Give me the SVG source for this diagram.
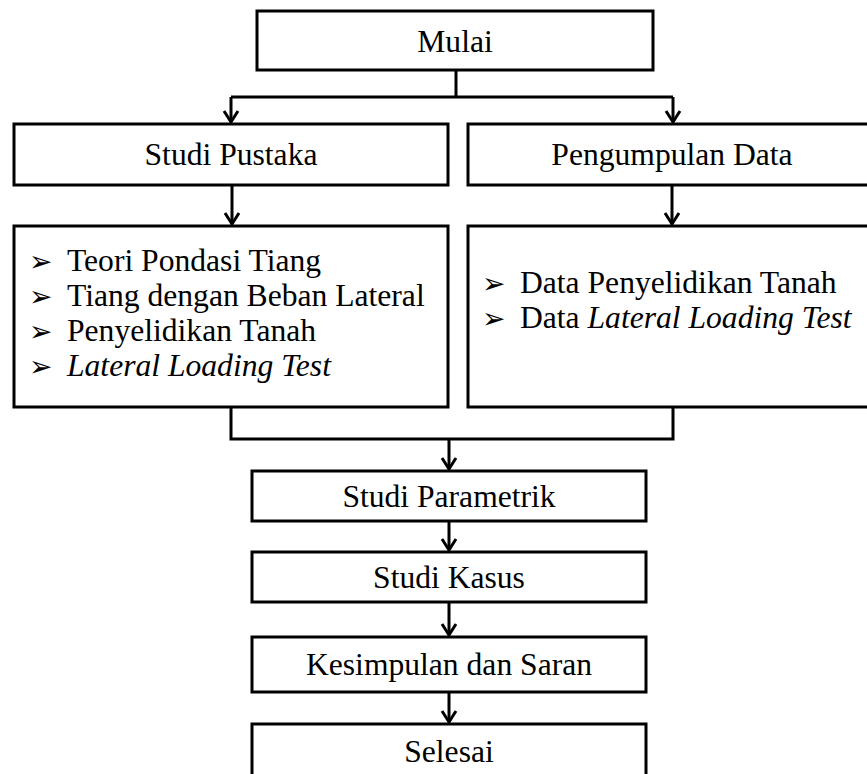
<svg xmlns="http://www.w3.org/2000/svg" width="867" height="774" viewBox="0 0 867 774">
<defs>
<style>
.box{fill:#fff;stroke:#000;stroke-width:3}
.t{font-family:"Liberation Serif","Times New Roman",serif;font-size:31.6px;fill:#000}
.c{text-anchor:middle}
.it{font-style:italic}
.b{font-family:"DejaVu Sans","Noto Sans",sans-serif;font-size:28px;fill:#000}
.ln{fill:none;stroke:#000;stroke-width:3}
</style>
<marker id="ah" markerUnits="userSpaceOnUse" viewBox="-13 -8 15 16" refX="0" refY="0" markerWidth="15" markerHeight="16" orient="auto" overflow="visible">
<path d="M-11,-7 L0,0 L-11,7" fill="none" stroke="#000" stroke-width="3"/>
</marker>
</defs>
<rect width="867" height="774" fill="#fff"/>
<g id="connectors">
<path class="ln" d="M456,70 V97"/>
<path class="ln" d="M231,97 H673"/>
<path class="ln" d="M231,97 V122" marker-end="url(#ah)"/>
<path class="ln" d="M673,97 V122" marker-end="url(#ah)"/>
<path class="ln" d="M232,185 V224" marker-end="url(#ah)"/>
<path class="ln" d="M672,185 V224" marker-end="url(#ah)"/>
<path class="ln" d="M231,407 V439 H673 V407"/>
<path class="ln" d="M449,439 V469" marker-end="url(#ah)"/>
<path class="ln" d="M449,521 V550" marker-end="url(#ah)"/>
<path class="ln" d="M449,602 V635" marker-end="url(#ah)"/>
<path class="ln" d="M449,692 V722" marker-end="url(#ah)"/>
</g>
<g id="mulai">
<rect class="box" x="257" y="11" width="396" height="59"/>
<text class="t c" x="455" y="52">Mulai</text>
</g>
<g id="studi-pustaka">
<rect class="box" x="14" y="124" width="434" height="61"/>
<text class="t c" x="231" y="165">Studi Pustaka</text>
</g>
<g id="pengumpulan-data">
<rect class="box" x="468" y="124" width="410" height="61"/>
<text class="t c" x="672" y="165">Pengumpulan Data</text>
</g>
<g id="teori-list">
<rect class="box" x="14" y="226" width="434" height="181"/>
<text class="b" x="29" y="271">➢</text>
<text class="t" x="67" y="271">Teori Pondasi Tiang</text>
<text class="b" x="29" y="306">➢</text>
<text class="t" x="67" y="306">Tiang dengan Beban Lateral</text>
<text class="b" x="29" y="341">➢</text>
<text class="t" x="67" y="341">Penyelidikan Tanah</text>
<text class="b" x="29" y="376">➢</text>
<text class="t it" x="67" y="376">Lateral Loading Test</text>
</g>
<g id="data-list">
<rect class="box" x="468" y="226" width="410" height="181"/>
<text class="b" x="482" y="293">➢</text>
<text class="t" x="520" y="293">Data Penyelidikan Tanah</text>
<text class="b" x="482" y="328">➢</text>
<text class="t" x="520" y="328">Data <tspan class="it">Lateral Loading Test</tspan></text>
</g>
<g id="studi-parametrik">
<rect class="box" x="252" y="471" width="394" height="50"/>
<text class="t c" x="449" y="507">Studi Parametrik</text>
</g>
<g id="studi-kasus">
<rect class="box" x="252" y="552" width="394" height="50"/>
<text class="t c" x="449" y="588">Studi Kasus</text>
</g>
<g id="kesimpulan">
<rect class="box" x="252" y="637" width="394" height="55"/>
<text class="t c" x="449" y="675">Kesimpulan dan Saran</text>
</g>
<g id="selesai">
<rect class="box" x="252" y="724" width="394" height="60"/>
<text class="t c" x="449" y="762">Selesai</text>
</g>
</svg>
